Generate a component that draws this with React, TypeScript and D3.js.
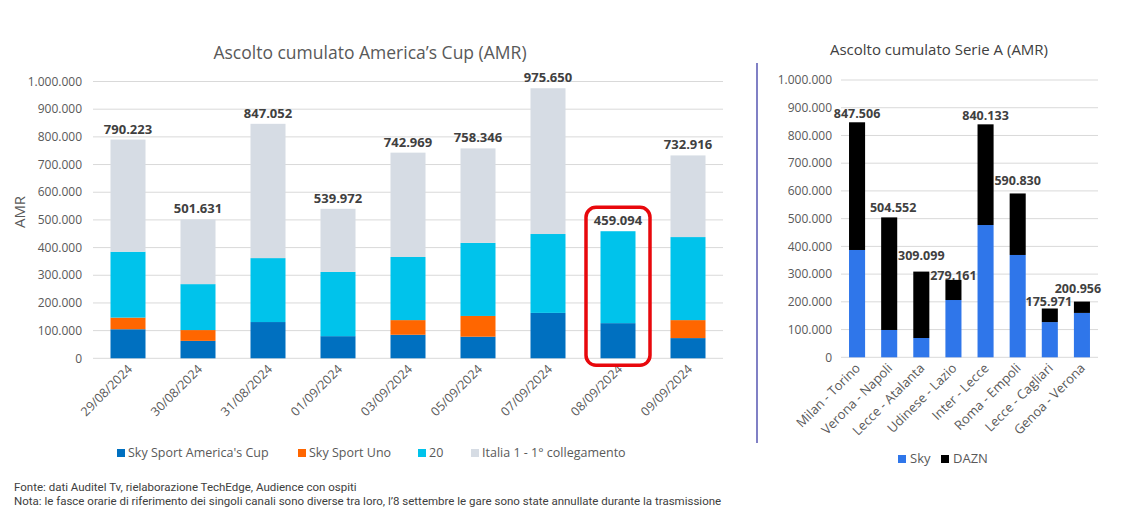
import * as d3 from "d3";

// America's Cup – cumulative audience (AMR)
const cupDates = [
  "29/08/2024", "30/08/2024", "31/08/2024", "01/09/2024", "03/09/2024",
  "05/09/2024", "07/09/2024", "08/09/2024", "09/09/2024",
];
const skyAmericasCup = [105000, 63000, 131000, 80000, 85000, 78000, 164000, 127000, 73000];
const skySportUno = [42000, 39000, 0, 0, 53000, 75000, 0, 0, 65000];
const venti = [238000, 166000, 231000, 232000, 228000, 264000, 285000, 332094, 300000];
const italia1 = [405223, 233631, 485052, 227972, 376969, 341346, 526650, 0, 294916];
const cupTotals = [790223, 501631, 847052, 539972, 742969, 758346, 975650, 459094, 732916];
const cupSeries = ["Sky Sport America's Cup", "Sky Sport Uno", "20", "Italia 1 - 1° collegamento"];
const cupColors = ["#0070c0", "#ff6600", "#00c3eb", "#d6dce4"];
const highlightDate = "08/09/2024";

// Serie A – cumulative audience (AMR)
const matches = [
  "Milan - Torino", "Verona - Napoli", "Lecce - Atalanta", "Udinese - Lazio",
  "Inter - Lecce", "Roma - Empoli", "Lecce - Cagliari", "Genoa - Verona",
];
const skyValues = [387000, 98500, 69600, 206600, 477000, 369000, 127000, 160000];
const daznValues = [460506, 406052, 239499, 72561, 363133, 221830, 48971, 40956];
const serieTotals = [847506, 504552, 309099, 279161, 840133, 590830, 175971, 200956];
const serieSeries = ["Sky", "DAZN"];
const serieColors = ["#2f76ea", "#000000"];

const yTicks = [0, 100000, 200000, 300000, 400000, 500000, 600000, 700000, 800000, 900000, 1000000];

const locale = d3.formatLocale({ decimal: ",", thousands: ".", grouping: [3], currency: ["", "€"] });
const fmt = locale.format(",d");

const FONT = "'Open Sans', sans-serif";
const TEXT = "#595959";
const GRID = "#d9d9d9";

// hand-placed data labels of the Serie A chart (pixel nudges, as in the source)
const serieLabelDx = [0, 4, 0, 0, 0, 0, -1, -4];
const serieLabelLift = [9, 10, 16, 4, 9, 12.5, 7, 12.5];

export default function App() {
  // left chart scales
  const xL = d3.scaleBand<string>().domain(cupDates).range([93, 723]).paddingInner(0.5).paddingOuter(0.25);
  const yL = d3.scaleLinear().domain([0, 1000000]).range([358.3, 81.5]);
  const cupRows = cupDates.map((d, i) => ({
    key: d,
    [cupSeries[0]]: skyAmericasCup[i],
    [cupSeries[1]]: skySportUno[i],
    [cupSeries[2]]: venti[i],
    [cupSeries[3]]: italia1[i],
  }));
  const cupStack = d3.stack<any>().keys(cupSeries)(cupRows);

  // right chart scales
  const xR = d3.scaleBand<string>().domain(matches).range([841, 1098]).paddingInner(0.5).paddingOuter(0.25);
  const yR = d3.scaleLinear().domain([0, 1000000]).range([357.3, 80]);
  const serieRows = matches.map((m, i) => ({ key: m, Sky: skyValues[i], DAZN: daznValues[i] }));
  const serieStack = d3.stack<any>().keys(serieSeries)(serieRows);

  const hx = xL(highlightDate)! + xL.bandwidth() / 2;
  const hi = cupDates.indexOf(highlightDate);

  const cupLegendX = [117, 298, 418, 471];
  const serieLegendX = [898, 941];

  return (
    <div style={{ position: "absolute", left: 0, top: 0 }}>
      <svg width={1123} height={511} style={{ display: "block", background: "#fff" }} fontFamily={FONT}>
        {/* ---------- left chart ---------- */}
        <text x={370} y={59} textAnchor="middle" fontSize={17.5} fill={TEXT}>
          Ascolto cumulato America’s Cup (AMR)
        </text>
        {yTicks.map((t) => (
          <g key={t}>
            <line x1={93} x2={723} y1={yL(t)} y2={yL(t)} stroke={GRID} strokeWidth={1} />
            <text x={82} y={yL(t)} dy="0.35em" textAnchor="end" fontSize={12} fill={TEXT}>
              {fmt(t)}
            </text>
          </g>
        ))}
        <text transform="translate(25,212) rotate(-90)" textAnchor="middle" fontSize={15} fill={TEXT}>
          AMR
        </text>
        {cupStack.map((s, si) => (
          <g key={s.key} fill={cupColors[si]}>
            {s.map((d) => (
              <rect
                key={d.data.key}
                x={xL(d.data.key)}
                width={xL.bandwidth()}
                y={yL(d[1])}
                height={Math.max(0, yL(d[0]) - yL(d[1]))}
              />
            ))}
          </g>
        ))}
        {cupDates.map((d, i) => (
          <text
            key={d}
            x={xL(d)! + xL.bandwidth() / 2}
            y={yL(cupTotals[i]) - 6}
            textAnchor="middle"
            fontSize={13}
            fontWeight="bold"
            fill="#404040"
          >
            {fmt(cupTotals[i])}
          </text>
        ))}
        {cupDates.map((d) => (
          <text
            key={d}
            transform={`translate(${xL(d)! + xL.bandwidth() / 2 + 5},${370}) rotate(-45)`}
            textAnchor="end"
            fontSize={12.5}
            fill={TEXT}
          >
            {d}
          </text>
        ))}
        <rect
          x={hx - 32}
          y={yL(cupTotals[hi]) - 24}
          width={64}
          height={358.3 - yL(cupTotals[hi]) + 31}
          rx={10}
          fill="none"
          stroke="#e8080c"
          strokeWidth={3.5}
        />
        {cupSeries.map((s, i) => (
          <g key={s}>
            <rect x={cupLegendX[i]} y={449} width={8} height={8} fill={cupColors[i]} />
            <text x={cupLegendX[i] + 11} y={457} fontSize={12.5} fill={TEXT}>
              {s}
            </text>
          </g>
        ))}

        {/* ---------- separator ---------- */}
        <line x1={757} x2={757} y1={63} y2={443} stroke="#3d3da6" strokeWidth={1.3} />

        {/* ---------- right chart ---------- */}
        <text x={939} y={55} textAnchor="middle" fontSize={15} fill={"#404040"}>
          Ascolto cumulato Serie A (AMR)
        </text>
        {yTicks.map((t) => (
          <g key={t}>
            <line x1={841} x2={1098} y1={yR(t)} y2={yR(t)} stroke={GRID} strokeWidth={1} />
            <text x={832} y={yR(t)} dy="0.35em" textAnchor="end" fontSize={12} fill={TEXT}>
              {fmt(t)}
            </text>
          </g>
        ))}
        {serieStack.map((s, si) => (
          <g key={s.key} fill={serieColors[si]}>
            {s.map((d) => (
              <rect
                key={d.data.key}
                x={xR(d.data.key)}
                width={xR.bandwidth()}
                y={yR(d[1])}
                height={Math.max(0, yR(d[0]) - yR(d[1]))}
              />
            ))}
          </g>
        ))}
        {matches.map((m, i) => (
          <text
            key={m}
            x={xR(m)! + xR.bandwidth() / 2 + serieLabelDx[i]}
            y={yR(serieTotals[i]) - serieLabelLift[i]}
            dy="0.35em"
            textAnchor="middle"
            fontSize={12.5}
            fontWeight="bold"
            fill="#404040"
          >
            {fmt(serieTotals[i])}
          </text>
        ))}
        {matches.map((m) => (
          <text
            key={m}
            transform={`translate(${xR(m)! + xR.bandwidth() / 2 + 4},${369}) rotate(-45)`}
            textAnchor="end"
            fontSize={13}
            fill={TEXT}
          >
            {m}
          </text>
        ))}
        {serieSeries.map((s, i) => (
          <g key={s}>
            <rect x={serieLegendX[i]} y={455} width={8} height={8} fill={serieColors[i]} />
            <text x={serieLegendX[i] + 12} y={463} fontSize={13} fill={TEXT}>
              {s}
            </text>
          </g>
        ))}

        {/* ---------- footnotes ---------- */}
        <text x={14} y={491} fontSize={11.5} fill="#404040" fontFamily="Roboto, sans-serif">
          Fonte: dati Auditel Tv, rielaborazione TechEdge, Audience con ospiti
        </text>
        <text x={14} y={505} fontSize={11.5} fill="#404040" fontFamily="Roboto, sans-serif">
          Nota: le fasce orarie di riferimento dei singoli canali sono diverse tra loro, l’8 settembre le gare sono state annullate durante la trasmissione
        </text>
      </svg>
    </div>
  );
}
